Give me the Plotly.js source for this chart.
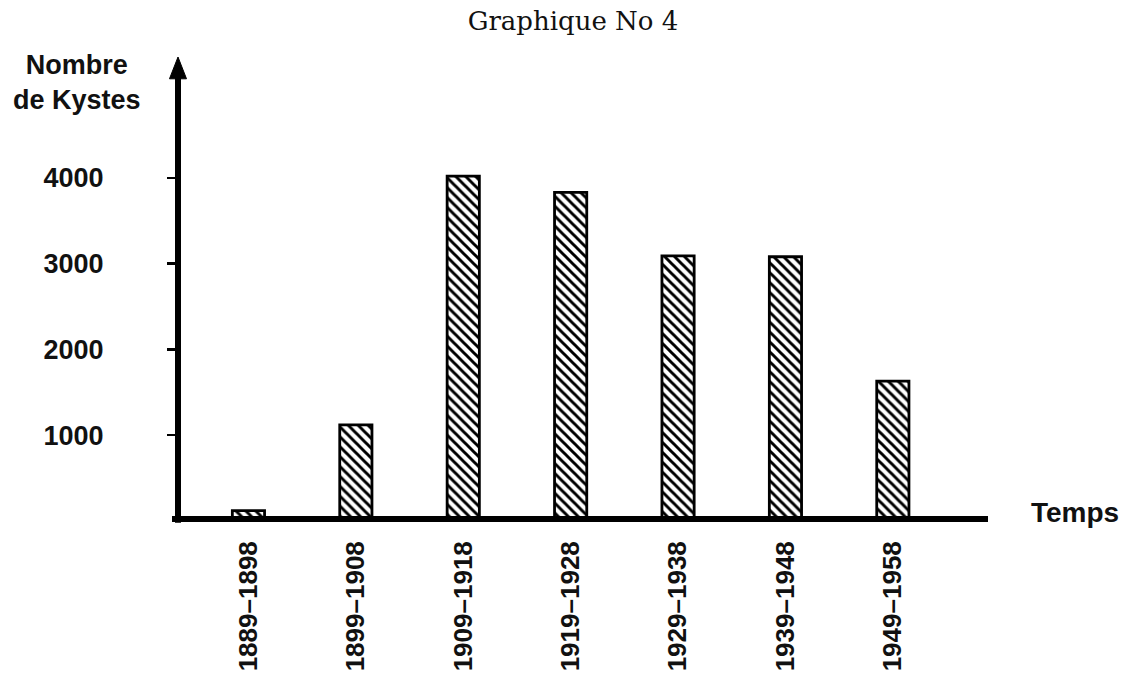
<!DOCTYPE html>
<html>
<head>
<meta charset="utf-8">
<script src="https://cdn.plot.ly/plotly-3.0.1.min.js"></script>
<style>html,body{margin:0;padding:0;background:#fff;}#chart{width:1127px;height:673px;}</style>
</head>
<body>
<div id="chart"></div>
<script>
const periods = ["1889–1898","1899–1908","1909–1918","1919–1928","1929–1938","1939–1948","1949–1958"];
const kystes = [120, 1120, 4020, 3830, 3090, 3080, 1630];
const yTickValues = [1000, 2000, 3000, 4000];
const yTickLabels = ["1000", "2000", "3000", "4000"];

const sansBold = "Liberation Sans, Arial, sans-serif";

const trace = {
  type: "bar",
  x: periods,
  y: kystes,
  width: 0.3,
  marker: {
    color: "#ffffff",
    line: {color: "#000000", width: 2.8},
    pattern: {shape: "\\", fgcolor: "#000000", bgcolor: "#ffffff", size: 7, solidity: 0.42}
  },
  hoverinfo: "skip"
};

const layout = {
  width: 1127, height: 673,
  margin: {l: 178, r: 139, t: 57, b: 152},
  paper_bgcolor: "#ffffff", plot_bgcolor: "#ffffff",
  showlegend: false,
  title: {
    text: "Graphique No 4",
    font: {family: "DejaVu Serif, serif", size: 26, color: "#111"},
    xref: "container", x: 0.5084, xanchor: "center",
    yref: "container", y: 1 - 21/673, yanchor: "middle"
  },
  xaxis: {
    type: "category",
    range: [-0.656, 6.886],
    showgrid: false, zeroline: false, showline: false,
    ticks: "",
    tickangle: -90,
    ticklabelstandoff: 14,
    tickfont: {family: sansBold, size: 26, color: "#111", weight: "bold"}
  },
  yaxis: {
    range: [0, 5408],
    showgrid: false, zeroline: false, showline: false,
    tickmode: "array", tickvals: yTickValues, ticktext: yTickLabels,
    ticks: "outside", ticklen: 10, tickwidth: 2.5, tickcolor: "#000",
    ticklabelstandoff: 58,
    tickfont: {family: sansBold, size: 27, color: "#111", weight: "bold"}
  },
  shapes: [
    {type: "line", xref: "paper", yref: "paper", x0: -0.0074, x1: 1, y0: 0.0043, y1: 0.0043,
     line: {color: "#000", width: 6}},
    {type: "line", xref: "paper", yref: "paper", x0: 0, x1: 0, y0: -0.004, y1: 0.96,
     line: {color: "#000", width: 6}},
    {type: "path", xref: "paper", yref: "paper",
     path: "M -0.0105 0.953 L 0 1 L 0.0105 0.953 Z",
     fillcolor: "#000", line: {color: "#000", width: 1}}
  ],
  annotations: [
    {text: "Nombre<br>de Kystes", xref: "paper", yref: "paper",
     x: (77 - 178) / 810, y: (521 - 83) / 464, xanchor: "center", yanchor: "middle",
     showarrow: false, align: "center",
     font: {family: sansBold, size: 27, color: "#111", weight: "bold"}},
    {text: "Temps", xref: "paper", yref: "paper",
     x: (1075 - 178) / 810, y: (521 - 512) / 464, xanchor: "center", yanchor: "middle",
     showarrow: false,
     font: {family: sansBold, size: 28, color: "#111", weight: "bold"}}
  ]
};

Plotly.newPlot("chart", [trace], layout, {displayModeBar: false, staticPlot: true});
</script>
</body>
</html>
